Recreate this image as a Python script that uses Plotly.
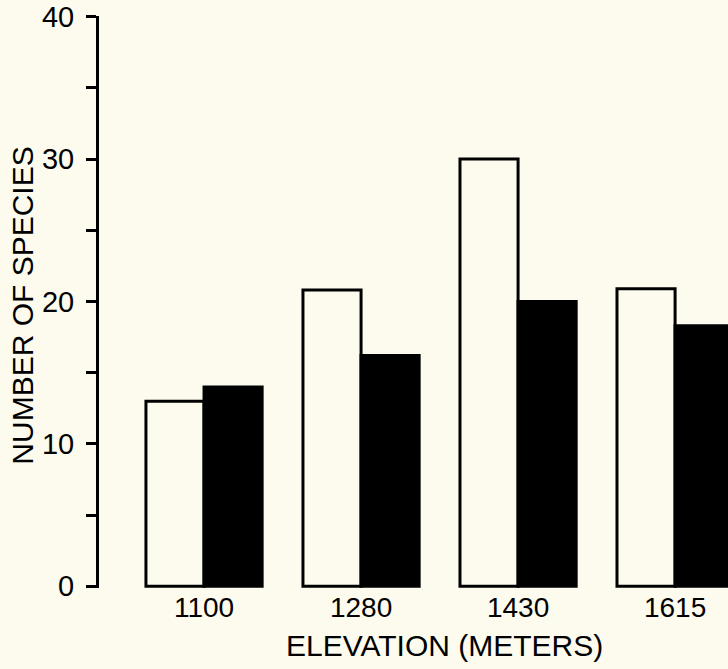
import plotly.graph_objects as go

elevations = ["1100", "1280", "1430", "1615"]
open_bars = [13, 20.8, 30, 20.9]
solid_bars = [14, 16.2, 20, 18.3]
y_ticks = [0, 10, 20, 30, 40]

BG = "#fcfbee"
FONT = "Liberation Sans, Arial, Helvetica, sans-serif"

fig = go.Figure()
fig.add_trace(go.Bar(x=elevations, y=open_bars, marker=dict(color=BG, line=dict(color="black", width=3)), showlegend=False))
fig.add_trace(go.Bar(x=elevations, y=solid_bars, marker=dict(color="black", line=dict(color="black", width=3)), showlegend=False))

fig.update_layout(
    width=728, height=669,
    paper_bgcolor=BG, plot_bgcolor=BG,
    margin=dict(l=99, r=0, t=16, b=81, autoexpand=False),
    barmode="group", bargap=0.26, bargroupgap=0,
    font=dict(family=FONT, color="black", size=28),
    xaxis=dict(range=[-0.669, 3.337], showline=False, showgrid=False, zeroline=False,
               ticks="", tickfont=dict(size=28), automargin=False),
    yaxis=dict(range=[-0.12, 40.05], tickvals=y_ticks, showgrid=False, zeroline=False,
               showline=True, linecolor="black", linewidth=3,
               ticks="outside", ticklen=10, tickwidth=3, tickcolor="black",
               minor=dict(dtick=5, ticks="outside", ticklen=10, tickwidth=3, tickcolor="black"),
               tickfont=dict(size=29), ticklabelstandoff=6, ticklabeloverflow="allow",
               automargin=False),
    annotations=[
        dict(text="ELEVATION (METERS)", xref="paper", yref="paper", x=0.55, y=-0.068,
             xanchor="center", yanchor="top", showarrow=False, font=dict(size=30)),
        dict(text="NUMBER OF SPECIES", xref="paper", yref="paper", x=-0.122, y=0.494,
             xanchor="center", yanchor="middle", textangle=-90, showarrow=False, font=dict(size=30)),
    ],
)

fig.write_html("out.html", config={"displayModeBar": False},
               post_script="document.body.style.margin='0';document.body.style.background='" + BG + "';")
